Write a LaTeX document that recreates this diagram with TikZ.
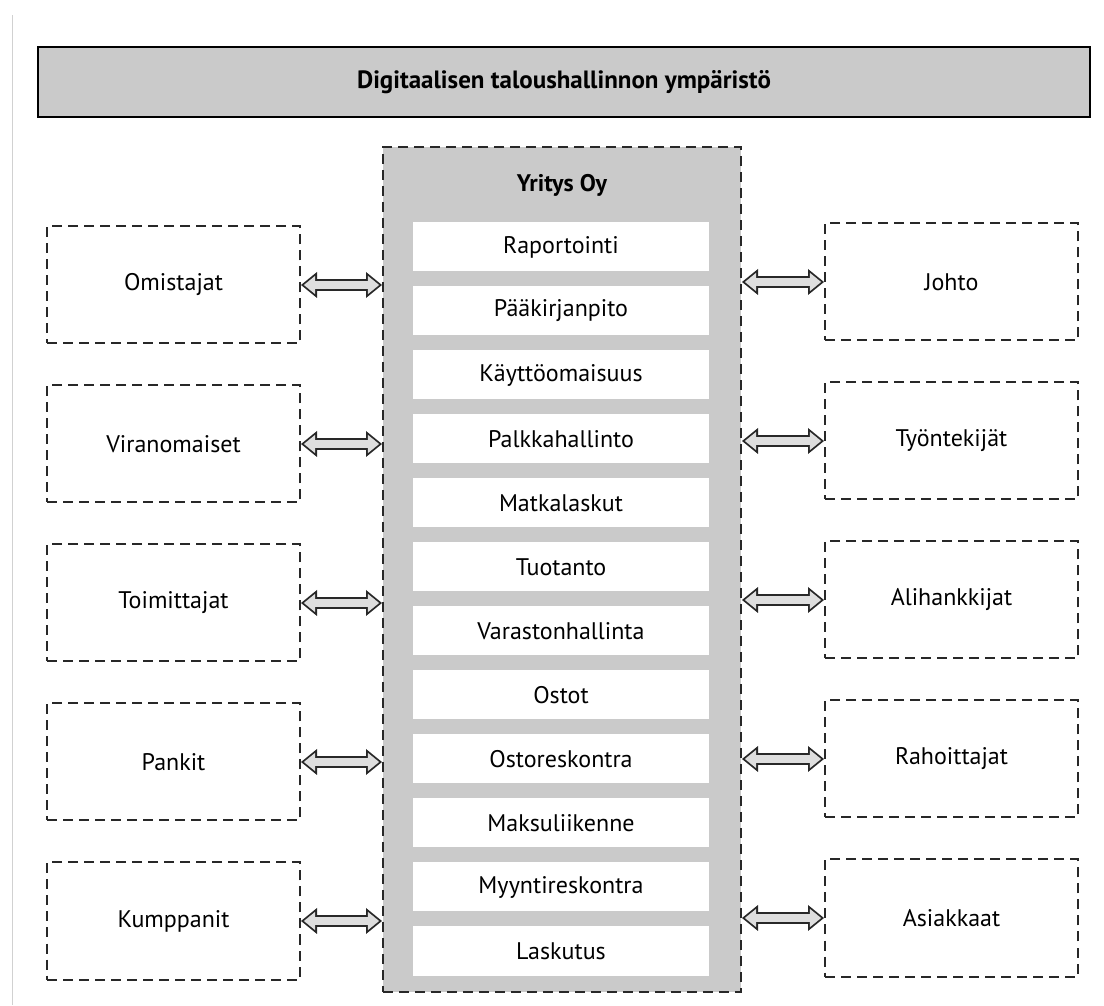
\documentclass[tikz,border=0pt]{standalone}
\usepackage{fontspec}
\setmainfont{PT Sans}
\usetikzlibrary{arrows.meta}

\begin{document}
\begin{tikzpicture}[x=1pt,y=1pt,line width=0.4pt]
\definecolor{scangrey}{RGB}{202,202,202}
\definecolor{shaftgrey}{RGB}{222,222,222}
\definecolor{inkgrey}{RGB}{40,40,40}
\providecommand{\flab}{\fontsize{24}{28}\selectfont}
\tikzset{party/.style={draw=inkgrey,line width=2pt,dash pattern=on 10pt off 6pt,minimum width=253pt,minimum height=117pt,inner sep=0pt,font=\flab},task/.style={fill=white,minimum width=296pt,minimum height=49pt,inner sep=0pt,font=\flab},link/.style={draw=shaftgrey,line width=8.4pt,shorten <=2.9pt,shorten >=2.9pt,{Triangle[length=11.3pt,width=18.4pt,line width=0pt]}-{Triangle[length=11.3pt,width=18.4pt,line width=0pt]},preaction={draw=inkgrey,line width=12pt,shorten <=0pt,shorten >=0pt,{Triangle[length=16pt,width=26pt,line width=0pt]}-{Triangle[length=16pt,width=26pt,line width=0pt]}}}}
\useasboundingbox (0,0) rectangle (1104,1005);
\draw[black!18,line width=1pt] (12,0) -- (12,990);
\node[draw=black,line width=2pt,fill=scangrey,minimum width=1052pt,minimum height=70pt,inner sep=0pt,font=\fontsize{25}{30}\selectfont\bfseries] (title) at (564,923) {Digitaalisen taloushallinnon ympäristö};
% company column
\node[draw=inkgrey,line width=2pt,dash pattern=on 10pt off 6pt,fill=scangrey,minimum width=358pt,minimum height=845pt,inner sep=0pt] (yritys) at (562,435.5) {};
\node[inner sep=0pt,font=\flab\bfseries] (yritysname) at (562,820) {Yritys Oy};
\node[task] (raportointi) at (561,758) {Raportointi};
\node[task] (paakirjanpito) at (561,694) {Pääkirjanpito};
\node[task] (kayttoomaisuus) at (561,630) {Käyttöomaisuus};
\node[task] (palkkahallinto) at (561,566) {Palkkahallinto};
\node[task] (matkalaskut) at (561,502) {Matkalaskut};
\node[task] (tuotanto) at (561,438) {Tuotanto};
\node[task] (varastonhallinta) at (561,374) {Varastonhallinta};
\node[task] (ostot) at (561,310) {Ostot};
\node[task] (ostoreskontra) at (561,246) {Ostoreskontra};
\node[task] (maksuliikenne) at (561,182) {Maksuliikenne};
\node[task] (myyntireskontra) at (561,118) {Myyntireskontra};
\node[task] (laskutus) at (561,54) {Laskutus};
% outside parties
\node[party] (omistajat) at (173.5,720) {Omistajat};
\node[party] (viranomaiset) at (173.5,561) {Viranomaiset};
\node[party] (toimittajat) at (173.5,402) {Toimittajat};
\node[party] (pankit) at (173.5,243) {Pankit};
\node[party] (kumppanit) at (173.5,84) {Kumppanit};
\node[party] (johto) at (951.5,723) {Johto};
\node[party] (tyontekijat) at (951.5,564) {Työntekijät};
\node[party] (alihankkijat) at (951.5,405) {Alihankkijat};
\node[party] (rahoittajat) at (951.5,246) {Rahoittajat};
\node[party] (asiakkaat) at (951.5,87) {Asiakkaat};
\draw[link] (omistajat.east) -- (omistajat.east -| yritys.west);
\draw[link] (viranomaiset.east) -- (viranomaiset.east -| yritys.west);
\draw[link] (toimittajat.east) -- (toimittajat.east -| yritys.west);
\draw[link] (pankit.east) -- (pankit.east -| yritys.west);
\draw[link] (kumppanit.east) -- (kumppanit.east -| yritys.west);
\draw[link] (yritys.east |- johto.west) -- (johto.west);
\draw[link] (yritys.east |- tyontekijat.west) -- (tyontekijat.west);
\draw[link] (yritys.east |- alihankkijat.west) -- (alihankkijat.west);
\draw[link] (yritys.east |- rahoittajat.west) -- (rahoittajat.west);
\draw[link] (yritys.east |- asiakkaat.west) -- (asiakkaat.west);
\end{tikzpicture}
\end{document}
